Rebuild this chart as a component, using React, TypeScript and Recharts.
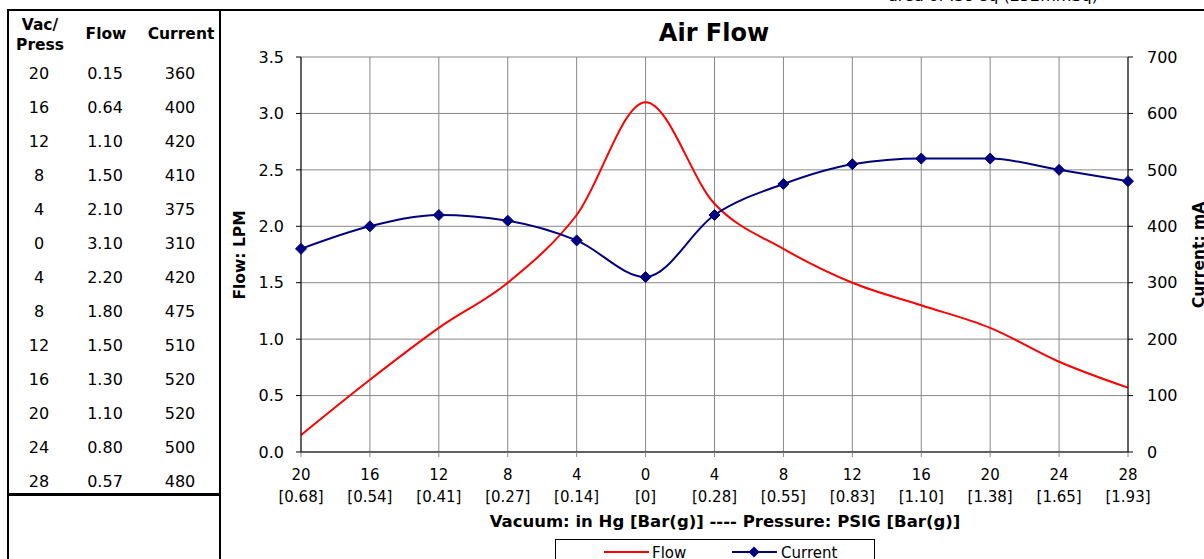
import React from 'react';
import { LineChart, Line, XAxis, YAxis, CartesianGrid } from 'recharts';

const vacPress = ['20', '16', '12', '8', '4', '0', '4', '8', '12', '16', '20', '24', '28'];
const barG = ['0.68', '0.54', '0.41', '0.27', '0.14', '0', '0.28', '0.55', '0.83', '1.10', '1.38', '1.65', '1.93'];
const flow = [0.15, 0.64, 1.1, 1.5, 2.1, 3.1, 2.2, 1.8, 1.5, 1.3, 1.1, 0.8, 0.57];
const current = [360, 400, 420, 410, 375, 310, 420, 475, 510, 520, 520, 500, 480];
const flowTicks = [0, 0.5, 1, 1.5, 2, 2.5, 3, 3.5];
const currentTicks = [0, 100, 200, 300, 400, 500, 600, 700];

const data = vacPress.map((v, i) => ({
  key: `${v}|${barG[i]}`,
  flow: flow[i],
  current: current[i],
}));

const FONT = '"DejaVu Sans", Verdana, sans-serif';
const RED = '#ff0000';
const NAVY = '#000080';

const XTick = (props: any) => {
  const { x, y, payload } = props;
  const [top, bottom] = String(payload.value).split('|');
  return (
    <g>
      <text x={x} y={y + 21} textAnchor="middle" fontSize={15} fontFamily={FONT} fill="#000">{top}</text>
      <text x={x} y={y + 43} textAnchor="middle" fontSize={15} fontFamily={FONT} fill="#000">[{bottom}]</text>
    </g>
  );
};

const Diamond = (props: any) => {
  const { cx, cy, index } = props;
  if (cx == null || cy == null) return null;
  const r = 5.5;
  return (
    <path key={`d-${index}`} d={`M${cx},${cy - r}L${cx + r},${cy}L${cx},${cy + r}L${cx - r},${cy}Z`} fill={NAVY} stroke={NAVY} />
  );
};

const abs = (s: React.CSSProperties): React.CSSProperties => ({ position: 'absolute', fontFamily: FONT, color: '#000', ...s });

export default function App() {
  return (
    <div style={{ position: 'absolute', left: 0, top: 0, width: 1204, height: 559, overflow: 'hidden', background: '#fff' }}>
      {/* outer frame */}
      <div style={{ position: 'absolute', left: 7, top: 9, width: 1300, height: 600, border: '2px solid #000', boxSizing: 'border-box' }} />
      <div style={{ position: 'absolute', left: 219, top: 9, width: 2, height: 600, background: '#000' }} />
      <div style={{ position: 'absolute', left: 7, top: 493, width: 213, height: 3, background: '#000' }} />

      {/* top note, cut off */}
      <div style={abs({ left: 888, top: -14, fontSize: 16, whiteSpace: 'nowrap' })}>area of .39 sq (252mmSq)</div>

      {/* table */}
      <div style={abs({ left: 10, top: 15, width: 60, textAlign: 'center', fontSize: 15.5, fontWeight: 'bold', lineHeight: '20px' })}>Vac/<br />Press</div>
      <div style={abs({ left: 76, top: 24, width: 60, textAlign: 'center', fontSize: 15.5, fontWeight: 'bold', lineHeight: '20px' })}>Flow</div>
      <div style={abs({ left: 141, top: 24, width: 80, textAlign: 'center', fontSize: 15.5, fontWeight: 'bold', lineHeight: '20px' })}>Current</div>
      {vacPress.map((v, i) => (
        <React.Fragment key={i}>
          <div style={abs({ left: 9, top: 64 + i * 34, width: 60, textAlign: 'center', fontSize: 16, lineHeight: '20px' })}>{v}</div>
          <div style={abs({ left: 75, top: 64 + i * 34, width: 60, textAlign: 'center', fontSize: 16, lineHeight: '20px' })}>{flow[i].toFixed(2)}</div>
          <div style={abs({ left: 150, top: 64 + i * 34, width: 60, textAlign: 'center', fontSize: 16, lineHeight: '20px' })}>{current[i]}</div>
        </React.Fragment>
      ))}

      {/* titles */}
      <div style={abs({ left: 221, top: 19, width: 986, textAlign: 'center', fontSize: 24, fontWeight: 'bold' })}>Air Flow</div>
      <div style={abs({ left: 221, top: 512, width: 1008, textAlign: 'center', fontSize: 16.5, fontWeight: 'bold', whiteSpace: 'nowrap' })}>
        Vacuum: in Hg [Bar(g)] ---- Pressure: PSIG [Bar(g)]
      </div>
      <div style={abs({ left: 240, top: 255, fontSize: 15.5, fontWeight: 'bold', whiteSpace: 'nowrap', transform: 'translate(-50%, -50%) rotate(-90deg)' })}>Flow: LPM</div>
      <div style={abs({ left: 1199, top: 255, fontSize: 15.5, fontWeight: 'bold', whiteSpace: 'nowrap', transform: 'translate(-50%, -50%) rotate(-90deg)' })}>Current: mA</div>

      <LineChart
        width={1204}
        height={559}
        data={data}
        margin={{ top: 57, right: 16, left: 241, bottom: 57 }}
        style={{ position: 'absolute', left: 0, top: 0 }}
      >
        <CartesianGrid yAxisId="left" stroke="#888" strokeWidth={1} />
        <XAxis
          dataKey="key"
          height={50}
          tick={<XTick />}
          tickSize={5}
          interval={0}
          axisLine={{ stroke: '#000' }}
          tickLine={{ stroke: '#888' }}
        />
        <YAxis
          yAxisId="left"
          width={60}
          domain={[0, 3.5]}
          ticks={flowTicks}
          tickFormatter={(v: number) => v.toFixed(1)}
          tick={{ fontSize: 16, fontFamily: FONT, fill: '#000' }}
          tickSize={5}
          tickMargin={12}
          axisLine={{ stroke: '#000' }}
          tickLine={{ stroke: '#000' }}
        />
        <YAxis
          yAxisId="right"
          orientation="right"
          width={60}
          domain={[0, 700]}
          ticks={currentTicks}
          tick={{ fontSize: 16, fontFamily: FONT, fill: '#000', textAnchor: 'start' }}
          tickSize={5}
          tickMargin={14}
          axisLine={{ stroke: '#000' }}
          tickLine={{ stroke: '#000' }}
        />
        <Line yAxisId="left" type="monotone" dataKey="flow" stroke={RED} strokeWidth={2} dot={false} isAnimationActive={false} />
        <Line yAxisId="right" type="monotone" dataKey="current" stroke={NAVY} strokeWidth={2} dot={<Diamond />} isAnimationActive={false} />
      </LineChart>

      {/* legend, cut off by the bottom edge */}
      <div style={{ position: 'absolute', left: 555, top: 539, width: 320, height: 40, border: '1px solid #000', boxSizing: 'border-box', background: '#fff' }}>
        <svg width={320} height={30} style={{ position: 'absolute', left: 0, top: 0 }}>
          <line x1={48} x2={93} y1={12} y2={12} stroke={RED} strokeWidth={2} />
          <text x={96} y={18} fontSize={15} fontFamily={FONT}>Flow</text>
          <line x1={176} x2={221} y1={12} y2={12} stroke={NAVY} strokeWidth={2} />
          <path d="M198,6.5L203.5,12L198,17.5L192.5,12Z" fill={NAVY} />
          <text x={225} y={18} fontSize={15} fontFamily={FONT}>Current</text>
        </svg>
      </div>
    </div>
  );
}
